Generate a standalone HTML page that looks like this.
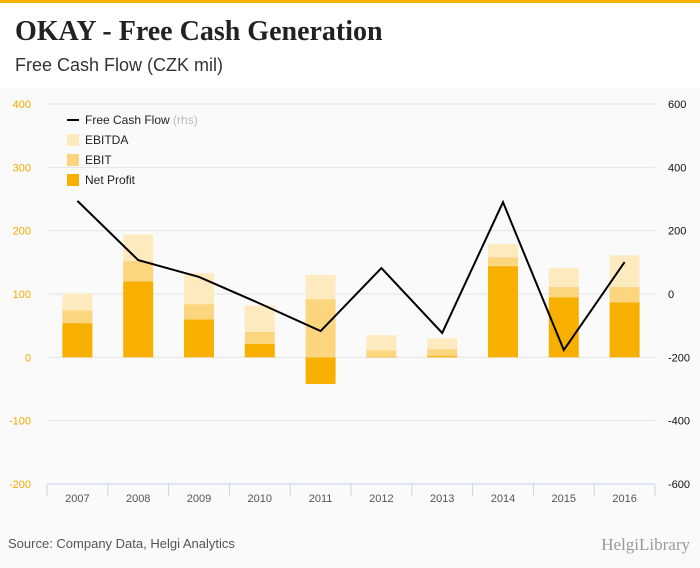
<!DOCTYPE html>
<html><head><meta charset="utf-8"><style>
body{margin:0;width:700px;height:568px;background:#fafafa;font-family:"Liberation Sans",sans-serif;overflow:hidden}
#hdr{position:absolute;left:0;top:0;width:700px;height:88px;background:#fff;border-top:3px solid #f8b000;box-sizing:border-box}
#title{position:absolute;left:15px;top:13px;font:bold 28px "Liberation Serif",serif;color:#222}
#sub{position:absolute;left:15px;top:52px;font-size:18px;color:#333}
svg{position:absolute;left:0;top:0}
</style></head><body>
<div id="hdr">
<div id="title">OKAY - Free Cash Generation</div>
<div id="sub">Free Cash Flow (CZK mil)</div>
</div>
<svg id="c" width="700" height="568"></svg>
<script>
const categories=["2007","2008","2009","2010","2011","2012","2013","2014","2015","2016"];
const netProfit=[54,120,60,21,-42,1,2,144,95,87];
const ebit=[74,152,84,40,92,11,13,158,111,111];
const ebitda=[101,194,133,82,130,35,30,179,141,161];
const fcf=[294,107,54,-30,-117,82,-123,290,-177,101];
const leftTicks=[400,300,200,100,0,-100,-200];
const rightTicks=[600,400,200,0,-200,-400,-600];
const NS="http://www.w3.org/2000/svg",svg=document.getElementById('c');
const X0=47,X1=655,Y0=104,Y1=484;
const yL=v=>Y0+(400-v)/600*(Y1-Y0);
const yR=v=>Y0+(600-v)/1200*(Y1-Y0);
const bw=(X1-X0)/categories.length;
const xc=i=>X0+bw*(i+0.5);
function mk(t,a,p){const e=document.createElementNS(NS,t);for(const k in a)e.setAttribute(k,a[k]);(p||svg).appendChild(e);return e;}
leftTicks.forEach(v=>{
 const l=mk('line',{x1:X0,x2:X1,y1:yL(v),y2:yL(v),stroke:'#e3e3e3','stroke-width':1});
 
 
 const t=mk('text',{x:31,y:yL(v)+4,'text-anchor':'end','font-size':11,fill:'#f5a800'});t.textContent=v;
 
 
});
rightTicks.forEach(v=>{
 const t=mk('text',{x:668,y:yR(v)+4,'font-size':11,fill:'#111'});t.textContent=v;
 
 
});
mk('line',{x1:X0,x2:X1,y1:Y1,y2:Y1,stroke:'#c8d4e6'});
categories.forEach((c,i)=>{
 mk('line',{x1:X0+bw*i,x2:X0+bw*i,y1:Y1,y2:Y1+12,stroke:'#c8d4e6'});
 const t=mk('text',{x:xc(i),y:Y1+18,'text-anchor':'middle','font-size':11,fill:'#555'});t.textContent=c;
 
 
});
mk('line',{x1:X1,x2:X1,y1:Y1,y2:Y1+12,stroke:'#c8d4e6'});
function bar(i,a,b,col,name){
 const r=mk('rect',{x:xc(i)-15,width:30,y:Math.min(yL(a),yL(b)),height:Math.abs(yL(a)-yL(b)),fill:col});
 
 
}
categories.forEach((c,i)=>{
 const np=netProfit[i],base=Math.max(np,0);
 bar(i,0,np,'#f8b000','bar-net-profit');
 bar(i,base,ebit[i],'#fcd57f','bar-ebit');
 bar(i,ebit[i],ebitda[i],'#feeabf','bar-ebitda');
});
const pl=mk('polyline',{points:fcf.map((v,i)=>xc(i)+','+yR(v)).join(' '),fill:'none',stroke:'#000','stroke-width':2});


const lg=mk('g',{});


mk('line',{x1:67,x2:79,y1:120,y2:120,stroke:'#000','stroke-width':2},lg);
let t=mk('text',{x:85,y:124,'font-size':12,fill:'#222'},lg);t.innerHTML='Free Cash Flow <tspan fill="#bbb">(rhs)</tspan>';
[['EBITDA','#feeabf',140],['EBIT','#fcd57f',160],['Net Profit','#f8b000',180]].forEach(([n,c,y])=>{
 mk('rect',{x:67,y:y-6,width:12,height:12,fill:c},lg);
 const tt=mk('text',{x:85,y:y+4,'font-size':12,fill:'#222'},lg);tt.textContent=n;
});
t=mk('text',{x:8,y:548,'font-size':13,fill:'#555'});t.textContent='Source: Company Data, Helgi Analytics';


t=mk('text',{x:690,y:550,'text-anchor':'end','font-size':17,fill:'#999','font-family':'Liberation Serif,serif'});t.textContent='HelgiLibrary';


</script>
</body></html>
